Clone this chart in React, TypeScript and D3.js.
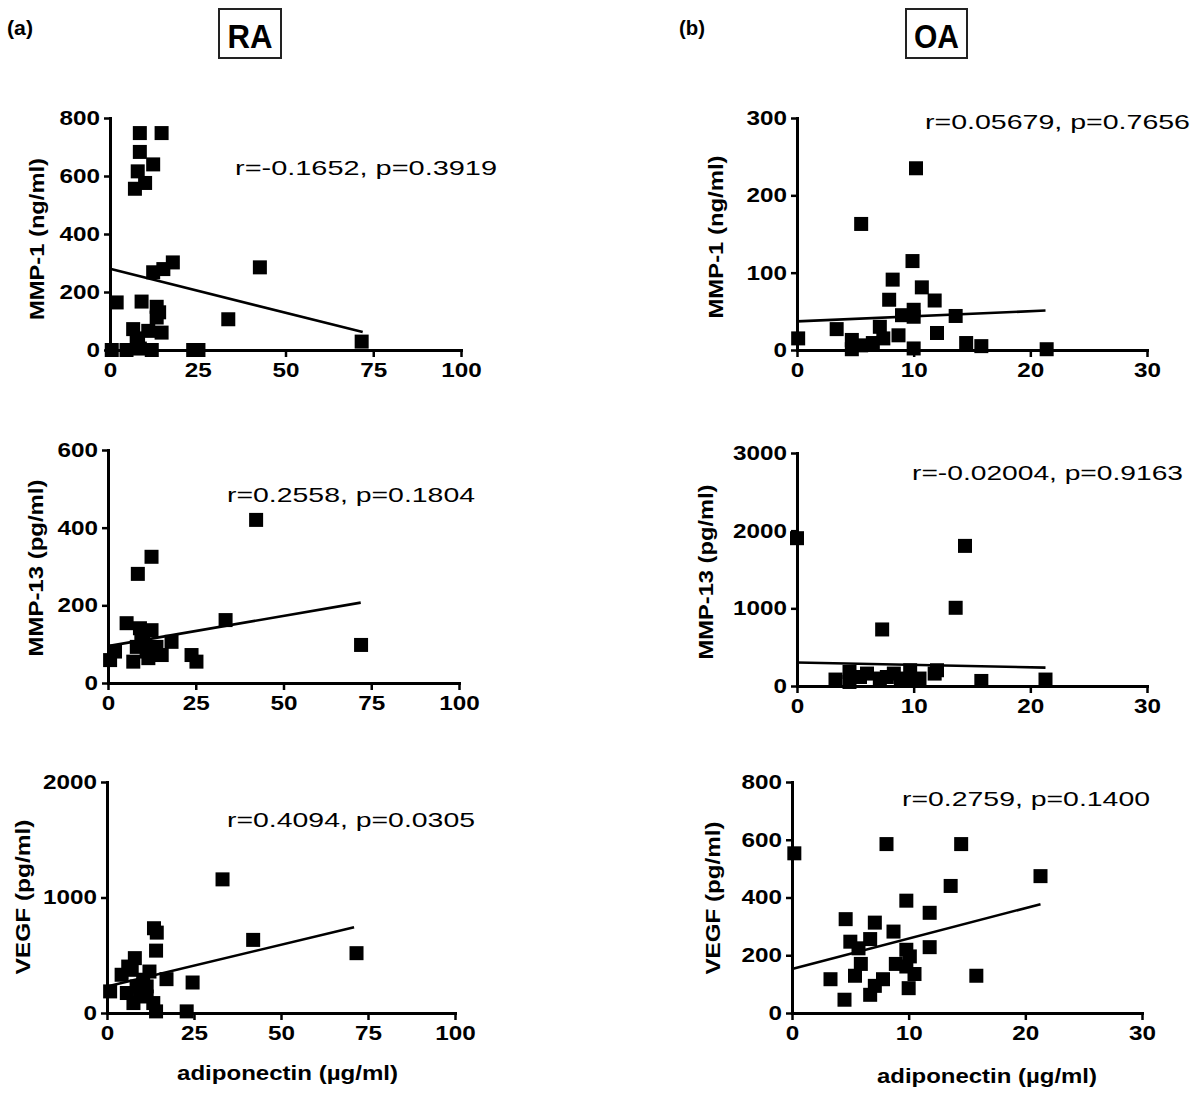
import * as d3 from 'd3';
import { useEffect, useRef } from 'react';

// values: [adiponectin, marker level]
const raMmp1 = [
  [8.5, 748], [14.7, 748], [8.5, 683], [12.3, 640], [7.9, 616], [10, 576], [7.1, 556],
  [12.3, 268], [15.2, 279], [17.9, 302], [42.7, 285], [1.9, 164], [9, 167], [13.3, 149],
  [13.3, 112], [33.7, 106], [6.6, 72], [10.9, 66], [14.7, 60], [7.6, 31], [71.7, 29],
  [0.5, 0], [4.7, 0], [8.5, 5], [11.9, 0], [23.7, 0], [25.2, 0], [14, 130], [8, 40],
];
const raMmp13 = [
  [42.2, 420], [12.4, 325], [8.5, 281], [5.3, 154], [33.5, 162], [9.1, 141], [12.4, 136],
  [72.1, 98], [2, 81], [0.6, 59], [7.2, 55], [11.5, 64], [15.3, 72], [18.1, 106], [23.8, 72],
  [25.2, 55], [8.2, 93], [10, 111], [13.8, 93], [11, 81], [9.5, 120],
];
const raVegf = [
  [33.2, 1157], [42, 633], [71.7, 518], [13.5, 734], [14.3, 696], [14.1, 540], [17.1, 293],
  [24.6, 264], [0.9, 187], [4.2, 331], [6.1, 402], [8, 475], [7.1, 374], [12.2, 359],
  [10.4, 288], [5.7, 173], [7.6, 86], [9.5, 173], [11.4, 143], [13.3, 86], [14.1, 14],
  [22.9, 14], [8.5, 230], [11.4, 230],
];
const oaMmp1 = [
  [10.2, 235], [5.5, 163], [9.9, 115], [8.2, 91], [10.7, 81], [7.9, 65], [11.8, 64], [9, 45],
  [10, 52], [10, 43], [13.6, 44], [7.1, 30], [3.4, 27], [8.7, 19], [12, 22], [0.1, 15],
  [4.7, 13], [5.5, 6], [6.5, 9], [7.4, 15], [4.7, 1], [10, 2], [14.5, 9], [15.8, 5], [21.4, 1],
];
const oaMmp13 = [
  [0, 1903], [14.4, 1804], [13.6, 1007], [7.3, 728], [15.8, 65], [21.3, 83], [3.3, 83],
  [4.5, 181], [4.5, 52], [5.4, 116], [7.1, 96], [8.3, 160], [8.9, 96], [9.7, 203], [10, 74],
  [10.5, 96], [11.8, 160], [12, 203], [6, 160], [7.7, 116],
];
const oaVegf = [
  [0.2, 553], [8.1, 585], [14.5, 585], [21.3, 474], [13.6, 440], [9.8, 389], [11.8, 347],
  [4.6, 325], [7.1, 313], [8.7, 282], [6.7, 256], [5, 247], [5.7, 224], [9.8, 219],
  [11.8, 228], [10.1, 196], [5.9, 170], [8.9, 170], [9.8, 161], [10.5, 135], [3.3, 117],
  [5.4, 129], [7.8, 117], [15.8, 129], [7.1, 94], [10, 86], [6.7, 63], [4.5, 46],
];

// regression lines: [x0, y0, x1, y1]
const raMmp1Fit = [0, 280, 72, 62];
const raMmp13Fit = [0, 95, 72, 207];
const raVegfFit = [0, 230, 71, 742];
const oaMmp1Fit = [0, 37, 21.3, 51];
const oaMmp13Fit = [0, 302, 21.3, 237];
const oaVegfFit = [0, 152, 21.3, 377];

const raXTicks = [0, 25, 50, 75, 100];
const oaXTicks = [0, 10, 20, 30];
const raMmp1Ticks = [0, 200, 400, 600, 800];
const raMmp13Ticks = [0, 200, 400, 600];
const raVegfTicks = [0, 1000, 2000];
const oaMmp1Ticks = [0, 100, 200, 300];
const oaMmp13Ticks = [0, 1000, 2000, 3000];
const oaVegfTicks = [0, 200, 400, 600, 800];

const yTitles = ['MMP-1 (ng/ml)', 'MMP-13 (pg/ml)', 'VEGF (pg/ml)'];
const stats = [
  'r=-0.1652, p=0.3919', 'r=0.2558, p=0.1804', 'r=0.4094, p=0.0305',
  'r=0.05679, p=0.7656', 'r=-0.02004, p=0.9163', 'r=0.2759, p=0.1400',
];
const xTitle = 'adiponectin (\u00b5g/ml)';

const FONT = '"Liberation Sans", Arial, sans-serif';

const panels = [
  { data: raMmp1, fit: raMmp1Fit, xTicks: raXTicks, yTicks: raMmp1Ticks, yTitle: yTitles[0], stat: stats[0],
    box: [110, 461, 118, 350], ty: [36, 239, 162], st: [235, 175, 262] },
  { data: raMmp13, fit: raMmp13Fit, xTicks: raXTicks, yTicks: raMmp13Ticks, yTitle: yTitles[1], stat: stats[1],
    box: [108, 459, 450, 683], ty: [35, 568, 177], st: [227, 502, 248] },
  { data: raVegf, fit: raVegfFit, xTicks: raXTicks, yTicks: raVegfTicks, yTitle: yTitles[2], stat: stats[2],
    box: [107, 455, 782, 1013], ty: [22, 897, 155], st: [227, 827, 248] },
  { data: oaMmp1, fit: oaMmp1Fit, xTicks: oaXTicks, yTicks: oaMmp1Ticks, yTitle: yTitles[0], stat: stats[3],
    box: [797, 1147, 118, 350], ty: [715, 237, 163], st: [925, 129, 265] },
  { data: oaMmp13, fit: oaMmp13Fit, xTicks: oaXTicks, yTicks: oaMmp13Ticks, yTitle: yTitles[1], stat: stats[4],
    box: [797, 1147, 453, 686], ty: [705, 572, 175], st: [912, 480, 271] },
  { data: oaVegf, fit: oaVegfFit, xTicks: oaXTicks, yTicks: oaVegfTicks, yTitle: yTitles[2], stat: stats[5],
    box: [792, 1142, 782, 1013], ty: [712, 898, 153], st: [902, 806, 248] },
];

const App = () => {
  const ref = useRef<SVGSVGElement>(null);

  useEffect(() => {
    const svg = d3.select(ref.current);
    svg.selectAll('*').remove();

    // panel letters and group boxes
    [['(a)', 7], ['(b)', 679]].forEach(([t, x]: any) => {
      svg.append('text').attr('x', x).attr('y', 35).attr('font-size', 21).attr('font-weight', 'bold')
        .attr('textLength', 26).attr('lengthAdjust', 'spacingAndGlyphs').text(t);
    });
    [['RA', 219, 62], ['OA', 906, 61]].forEach(([t, x, w]: any) => {
      svg.append('rect').attr('x', x).attr('y', 9).attr('width', w).attr('height', 49)
        .attr('fill', 'none').attr('stroke', '#222').attr('stroke-width', 2);
      svg.append('text').attr('x', x + w / 2).attr('y', 48).attr('text-anchor', 'middle')
        .attr('font-size', 33).attr('font-weight', 'bold')
        .attr('textLength', 45).attr('lengthAdjust', 'spacingAndGlyphs').text(t);
    });

    panels.forEach(p => {
      const [l, r, t, b] = p.box;
      const x = d3.scaleLinear().domain(d3.extent(p.xTicks) as number[]).range([l, r]);
      const y = d3.scaleLinear().domain(d3.extent(p.yTicks) as number[]).range([b, t]);
      const g = svg.append('g');

      const gx = g.append('g').attr('transform', `translate(0,${b})`)
        .call(d3.axisBottom(x).tickValues(p.xTicks).tickFormat(d3.format('d'))
          .tickSize(7).tickSizeOuter(0).tickPadding(6));
      const gy = g.append('g').attr('transform', `translate(${l},0)`)
        .call(d3.axisLeft(y).tickValues(p.yTicks).tickFormat(d3.format('d'))
          .tickSize(6).tickSizeOuter(0).tickPadding(4));

      [gx, gy].forEach(ax => {
        ax.select('.domain').attr('stroke', '#000').attr('stroke-width', 3).attr('stroke-linecap', 'square');
        ax.selectAll('.tick line').attr('stroke', '#000').attr('stroke-width', 2.5);
        ax.selectAll('.tick text')
          .attr('font-family', FONT).attr('font-size', 20).attr('font-weight', 'bold').attr('fill', '#000')
          .attr('textLength', (d: any) => String(d).length * 13.5)
          .attr('lengthAdjust', 'spacingAndGlyphs');
      });

      const [x0, y0, x1, y1] = p.fit;
      g.append('line')
        .attr('x1', x(x0)).attr('y1', y(y0)).attr('x2', x(x1)).attr('y2', y(y1))
        .attr('stroke', '#000').attr('stroke-width', 2.6);

      g.append('g').selectAll('rect')
        .data(p.data)
        .enter().append('rect')
        .attr('x', d => x(d[0]) - 7)
        .attr('y', d => y(d[1]) - 7)
        .attr('width', 14)
        .attr('height', 14)
        .attr('fill', '#000');

      const [tx, tyy, tl] = p.ty;
      g.append('text')
        .attr('transform', `translate(${tx},${tyy}) rotate(-90)`)
        .attr('text-anchor', 'middle').attr('dominant-baseline', 'central')
        .attr('font-size', 21).attr('font-weight', 'bold')
        .attr('textLength', tl).attr('lengthAdjust', 'spacingAndGlyphs')
        .text(p.yTitle);

      const [sx, sy, sl] = p.st;
      g.append('text').attr('x', sx).attr('y', sy)
        .attr('font-size', 21)
        .attr('textLength', sl).attr('lengthAdjust', 'spacingAndGlyphs')
        .text(p.stat);
    });

    [[177, 1080, 221], [877, 1083, 220]].forEach(([xx, yy, len]) => {
      svg.append('text').attr('x', xx).attr('y', yy)
        .attr('font-size', 21).attr('font-weight', 'bold')
        .attr('textLength', len).attr('lengthAdjust', 'spacingAndGlyphs')
        .text(xTitle);
    });
  }, []);

  return (
    <svg ref={ref} width={1200} height={1105}
      style={{ position: 'absolute', left: 0, top: 0, background: '#fff', fontFamily: FONT }} />
  );
};

export default App;
